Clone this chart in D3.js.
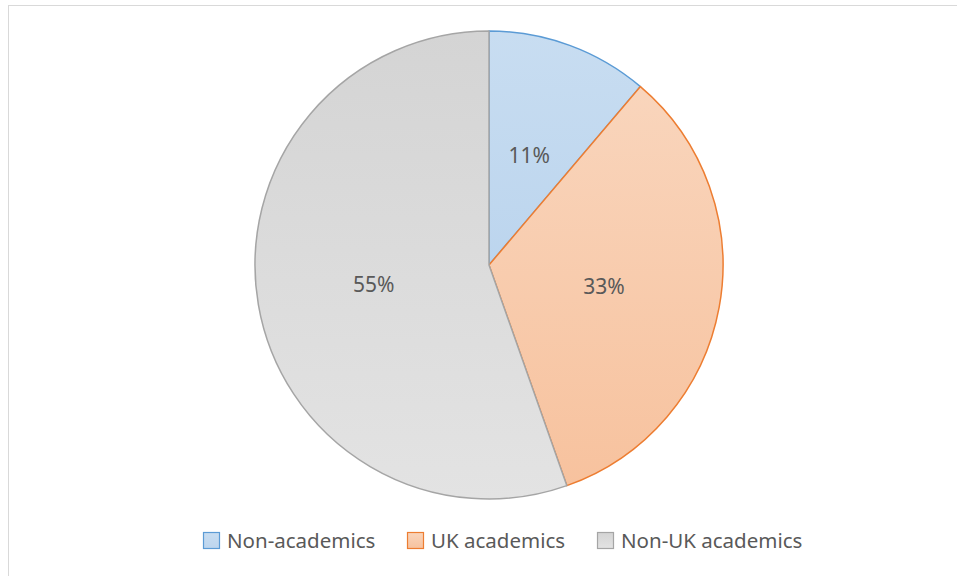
<!DOCTYPE html>
<html>
<head>
<meta charset="utf-8">
<script src="https://cdn.jsdelivr.net/npm/d3@7"></script>
<style>
  body { margin: 0; background: #fff; }
  svg { display: block; }
</style>
</head>
<body>
<div id="chart"></div>
<script>
// --- data ---
var categories = ['Non-academics', 'UK academics', 'Non-UK academics'];
var shares = [11.2, 33.4, 55.4];
var strokeColors = ['#5b9bd5', '#ed7d31', '#a5a5a5'];
var gradTop = ['#c8ddf1', '#f9d5bc', '#d4d4d4'];
var gradBottom = ['#bcd5ee', '#f7c29e', '#e3e3e3'];

var width = 957, height = 576;
var cx = 489, cy = 265, radius = 234;

var svg = d3.select('#chart').append('svg')
    .attr('width', width)
    .attr('height', height);

// chart frame
svg.append('rect')
    .attr('x', 8.5).attr('y', 5.5)
    .attr('width', width + 20).attr('height', height + 20)
    .attr('fill', '#fff')
    .attr('stroke', '#d9d9d9');

var defs = svg.append('defs');
categories.forEach(function (c, i) {
    var g = defs.append('linearGradient')
        .attr('id', 'grad' + i)
        .attr('x1', 0).attr('y1', 0).attr('x2', 0).attr('y2', 1);
    g.append('stop').attr('offset', '0%').attr('stop-color', gradTop[i]);
    g.append('stop').attr('offset', '100%').attr('stop-color', gradBottom[i]);
});

var total = d3.sum(shares);
var pie = d3.pie().sort(null).value(function (d) { return d; });
var arcs = pie(shares);

var arc = d3.arc().innerRadius(0).outerRadius(radius);
var labelArc = d3.arc().innerRadius(radius * 0.5).outerRadius(radius * 0.5);

var g = svg.append('g').attr('transform', 'translate(' + cx + ',' + cy + ')');

g.selectAll('path.slice')
    .data(arcs)
    .enter().append('path')
    .attr('class', 'slice')
    .attr('d', arc)
    .attr('fill', function (d, i) { return 'url(#grad' + i + ')'; })
    .attr('stroke', function (d, i) { return strokeColors[i]; })
    .attr('stroke-width', 1.5)
    .attr('stroke-linejoin', 'round');

g.selectAll('text.lbl')
    .data(arcs)
    .enter().append('text')
    .attr('class', 'lbl')
    .attr('transform', function (d) { return 'translate(' + labelArc.centroid(d) + ')'; })
    .attr('text-anchor', 'middle')
    .attr('dy', '0.35em')
    .attr('font-family', 'Noto Sans, Open Sans, sans-serif')
    .attr('font-size', 21)
    .attr('fill', '#595959')
    .text(function (d) { return Math.round(d.value / total * 100) + '%'; });

// --- legend ---
var legendX = [203, 407, 597];
var legend = svg.append('g').attr('transform', 'translate(0,532)');
var items = legend.selectAll('g.item')
    .data(categories)
    .enter().append('g')
    .attr('class', 'item')
    .attr('transform', function (d, i) { return 'translate(' + legendX[i] + ',0)'; });

items.append('rect')
    .attr('x', 0.5).attr('y', 0.5)
    .attr('width', 16).attr('height', 16)
    .attr('fill', function (d, i) { return 'url(#grad' + i + ')'; })
    .attr('stroke', function (d, i) { return strokeColors[i]; })
    .attr('stroke-width', 1.2);

items.append('text')
    .attr('x', 24).attr('y', 9)
    .attr('dy', '0.35em')
    .attr('font-family', 'Noto Sans, Open Sans, sans-serif')
    .attr('font-size', 20.5)
    .attr('fill', '#595959')
    .text(function (d) { return d; });
</script>
</body>
</html>
